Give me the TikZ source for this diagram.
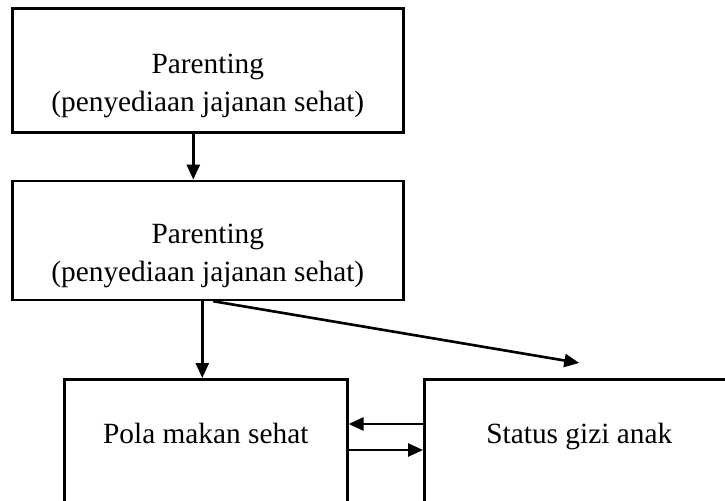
\documentclass[tikz,border=0pt]{standalone}
\usepackage{fontspec}
\setmainfont{Liberation Serif}
\usetikzlibrary{positioning,arrows.meta}

\tikzset{
  box/.style={draw, line width=1.5pt, align=center, inner ysep=0pt,
    font=\fontsize{16.7}{21.6}\selectfont},
  arr/.style={line width=1.5pt, -{Triangle[length=3mm,width=2.6mm]}},
}

\begin{document}
\begin{tikzpicture}[x=0.02cm, y=-0.02cm, node distance=0.92cm]
  \path[use as bounding box, clip] (0,0) rectangle (725,501);
  \node (P1) [box, anchor=north west, minimum width=7.82cm,
              text height=2.06cm, text depth=0.42cm] at (11,7)
              {Parenting\\(penyediaan jajanan sehat)};
  \node (P2) [box, below=of P1, minimum width=7.82cm,
              text height=2.02cm, text depth=0.36cm]
              {Parenting\\(penyediaan jajanan sehat)};
  \node (PM) [box, anchor=north west, minimum width=5.66cm,
              text height=1.28cm, text depth=1.6cm] at (63,378)
              {Pola makan sehat};
  \node (SG) [box, anchor=north west, minimum width=6.2cm,
              text height=1.28cm, text depth=1.6cm] at (423,378)
              {Status gizi anak};
  \draw[arr] ([xshift=-0.29cm]P1.south) -- ([xshift=-0.29cm]P2.north);
  \draw[arr] ([xshift=-0.11cm]P2.south) -- ([xshift=-0.11cm]P2.south |- PM.north);
  \draw[arr] ([xshift=0.11cm]P2.south)  -- ([yshift=0.3cm]SG.north);
  \draw[arr] ([yshift=-0.92cm]SG.north west) -- ([yshift=-0.92cm]PM.north east);
  \draw[arr] ([yshift=-1.44cm]PM.north east) -- ([yshift=-1.44cm]SG.north west);
\end{tikzpicture}
\end{document}
